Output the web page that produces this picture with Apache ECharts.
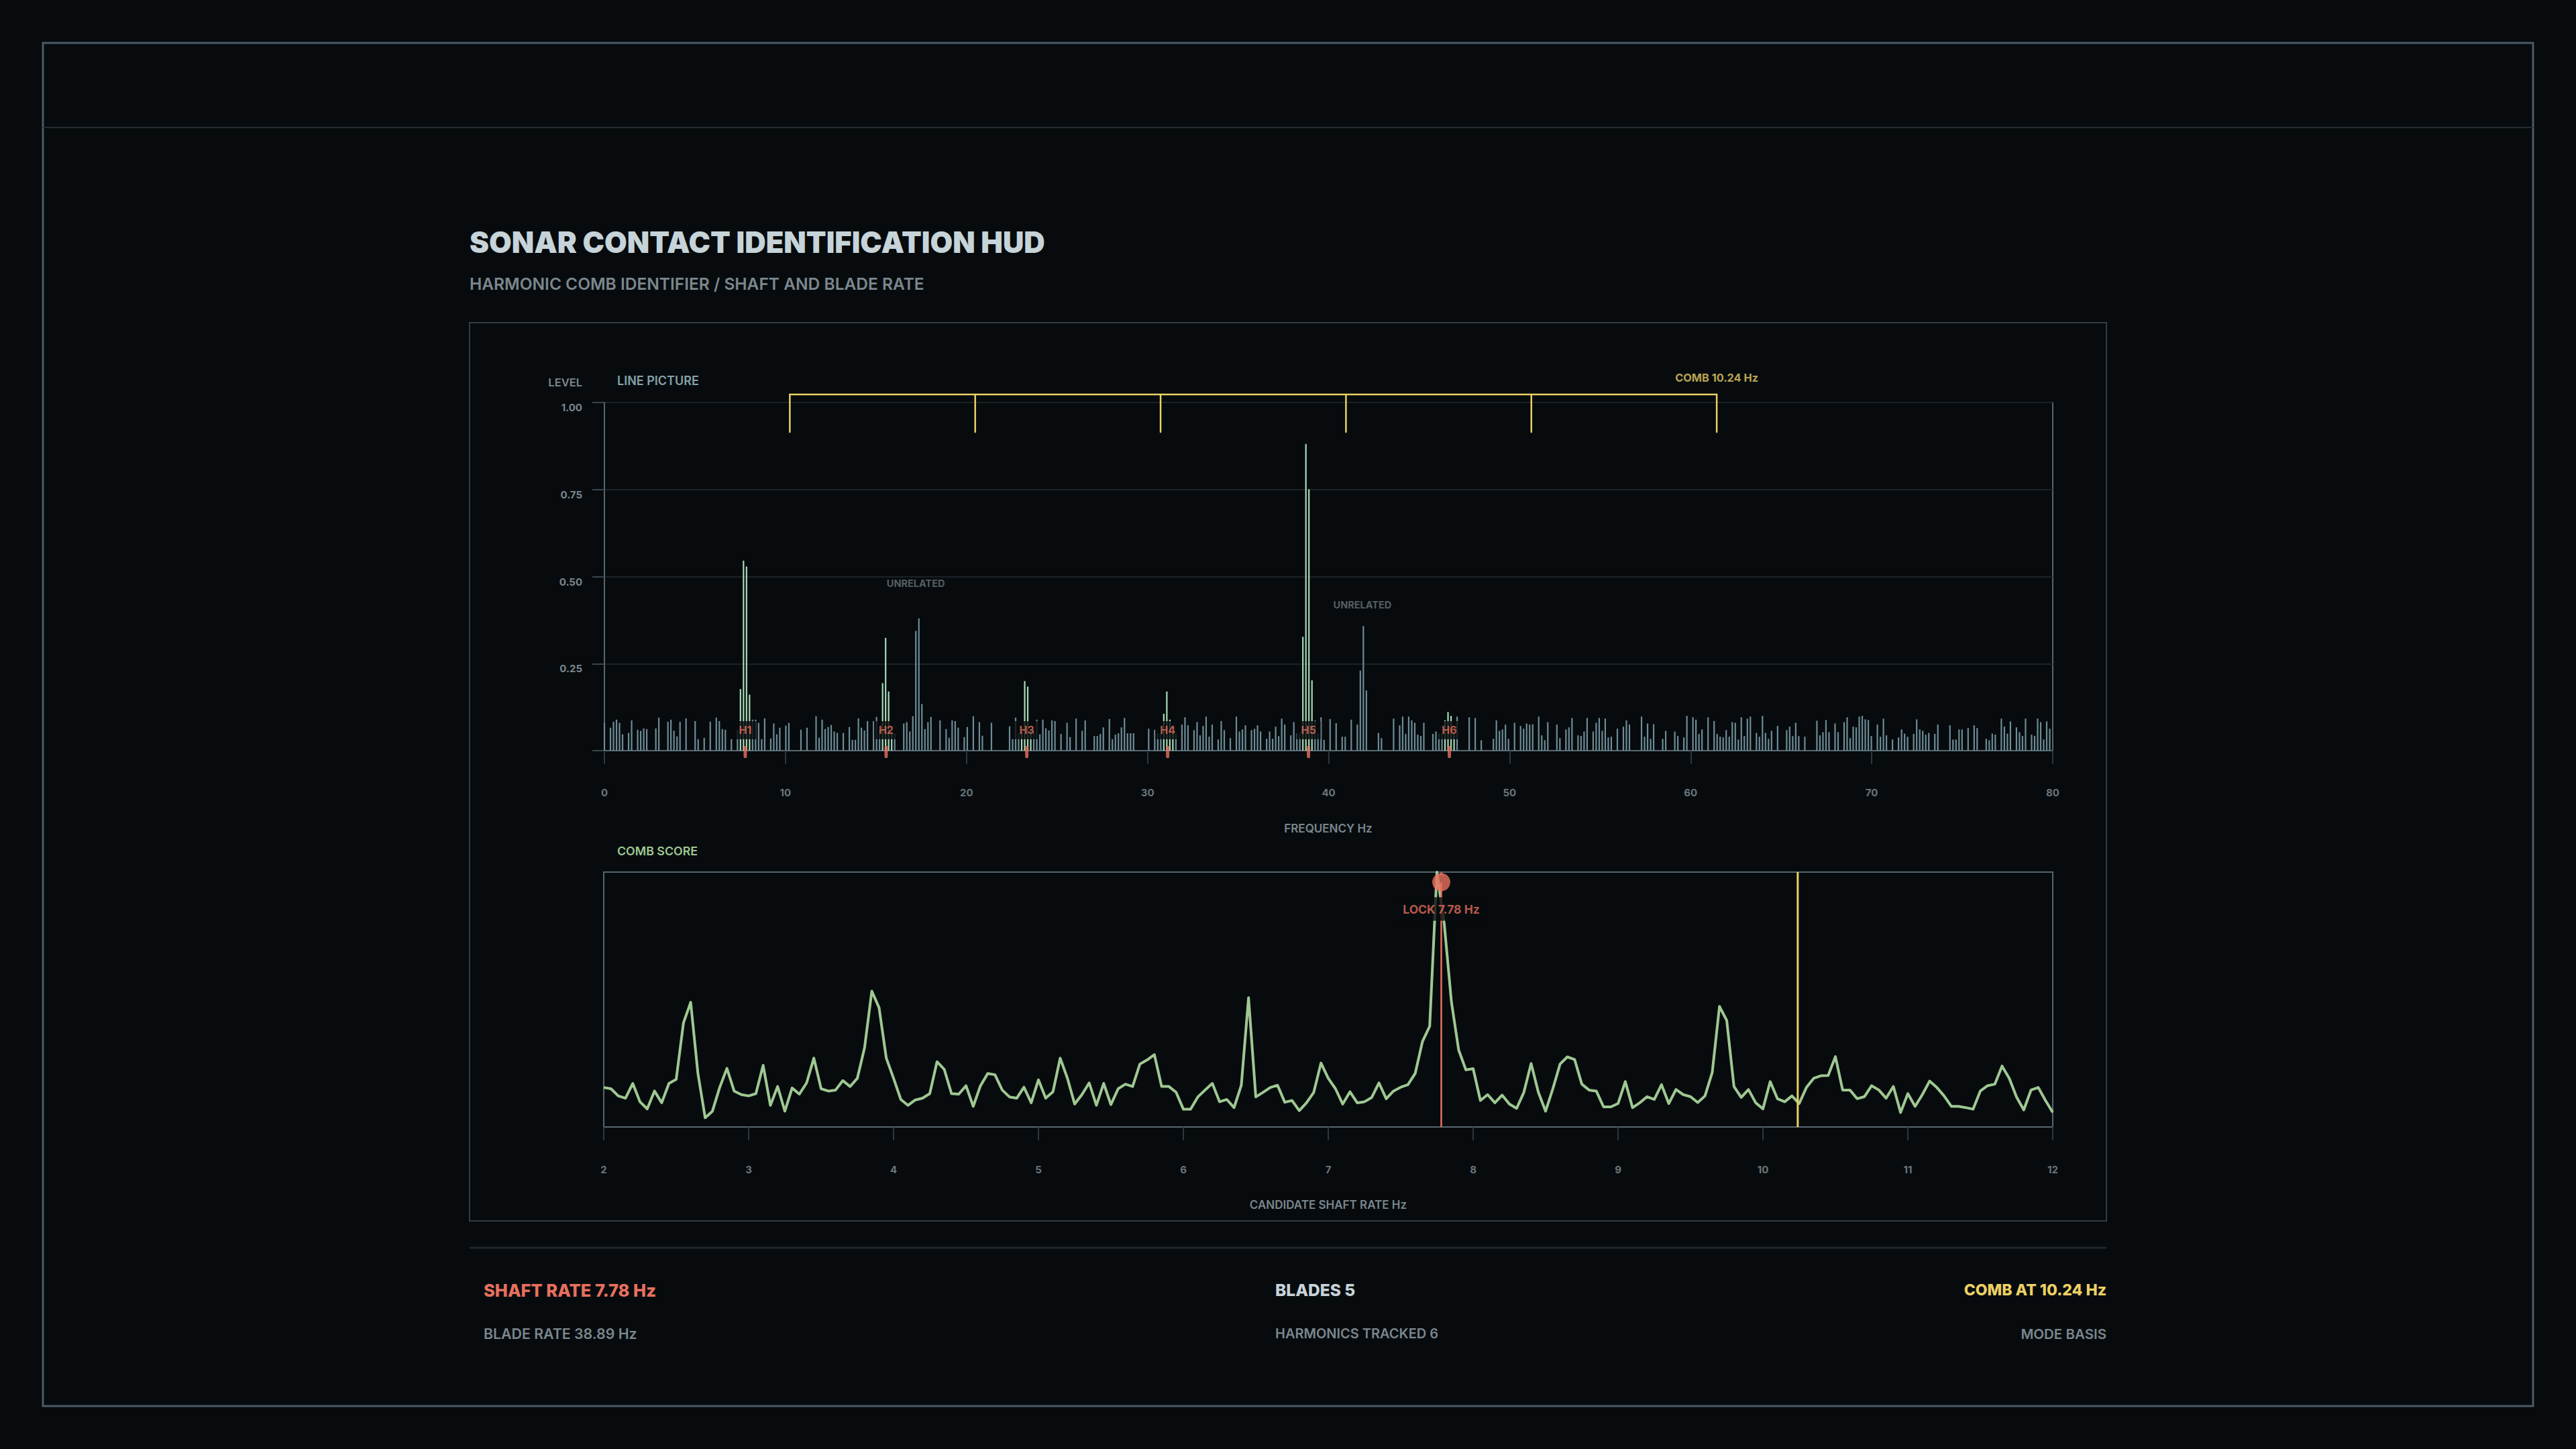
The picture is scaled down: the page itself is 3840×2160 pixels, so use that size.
<!DOCTYPE html>
<html>
<head>
<meta charset="utf-8">
<title>Sonar Contact Identification HUD</title>
<script src="https://cdn.jsdelivr.net/npm/echarts@6/dist/echarts.min.js"></script>
<style>
  html, body { margin: 0; padding: 0; background: #070b0e; }
  #chart { width: 3840px; height: 2160px; }
</style>
</head>
<body>
<div id="chart"></div>
<script>
// ---------------- DATA ----------------
// spectrum bins: 480 bins spread evenly over 0..80 Hz
const BIN_COUNT = 480;
const FREQ_MAX = 80;
const FREQS = Array.from({ length: BIN_COUNT }, (_, k) => k * FREQ_MAX / (BIN_COUNT - 1));

// line-picture levels, one per bin
const LEVELS = [
  0.080,0,0.066,0.083,0.089,0.080,0.047,0,0.051,0.087,
  0,0.060,0.057,0.064,0.062,0,0,0.064,0.095,0,
  0,0.083,0.089,0.057,0.041,0.083,0,0.093,0,0,
  0.085,0.033,0,0.037,0,0.083,0,0.095,0.085,0.062,
  0.060,0,0.033,0,0.060,0.177,0.546,0.529,0.161,0.089,
  0.089,0.080,0.033,0.093,0,0.035,0.078,0.047,0.066,0,
  0.072,0.080,0,0,0,0.060,0,0.066,0,0,
  0.099,0.037,0.089,0.062,0.068,0.074,0.055,0.051,0,0.051,
  0,0.068,0.031,0.031,0.093,0.066,0.058,0.085,0,0.085,
  0.097,0.060,0.194,0.324,0.170,0.050,0.050,0,0,0.078,
  0.082,0.055,0.099,0.344,0.380,0.134,0.062,0.082,0.097,0,
  0,0.087,0,0.062,0.037,0.087,0.085,0.066,0,0.039,
  0.068,0,0.099,0,0.082,0.043,0,0,0.080,0,
  0,0,0,0,0.070,0.033,0.095,0.050,0.055,0.200,
  0.184,0.060,0.050,0.089,0.047,0.089,0.064,0.058,0.087,0.085,
  0,0.048,0,0.080,0.039,0,0.092,0,0.057,0.087,
  0,0,0.042,0.042,0.048,0.067,0,0.091,0.033,0.046,
  0.050,0.067,0.094,0.050,0.050,0.050,0,0,0,0,
  0.063,0,0.060,0.050,0.050,0.106,0.170,0.089,0.050,0.050,
  0,0.075,0.096,0.073,0,0.059,0.082,0.044,0.071,0.098,
  0.040,0.075,0,0.032,0.085,0.059,0,0.036,0,0.098,
  0.055,0.061,0.073,0,0.059,0.063,0.073,0.055,0,0.034,
  0.055,0.034,0.069,0.042,0.092,0.075,0,0.044,0.082,0.050,
  0.050,0.327,0.881,0.751,0.202,0.087,0.050,0.096,0.031,0,
  0.091,0,0.079,0,0.040,0.040,0,0.089,0,0.075,
  0.230,0.358,0.173,0,0,0,0.051,0.036,0,0,
  0,0.092,0,0.073,0.098,0.048,0.098,0.087,0.080,0.046,
  0.042,0.080,0,0,0.048,0.055,0.050,0.050,0.087,0.111,
  0.100,0.050,0.098,0,0,0,0.096,0,0.094,0,
  0.030,0,0,0,0.034,0.087,0.057,0.061,0.075,0.034,
  0,0.080,0,0.071,0.063,0.078,0.075,0.076,0,0.098,
  0.044,0.030,0.082,0,0,0.075,0.036,0,0.061,0.067,
  0.094,0,0.044,0.042,0.055,0.094,0,0.055,0.080,0.094,
  0.057,0.092,0.038,0.040,0,0.063,0,0.069,0.087,0.075,
  0,0,0,0.098,0.040,0.078,0.034,0.076,0,0,
  0.034,0.057,0,0,0.055,0.042,0,0.038,0.100,0,
  0.096,0.089,0.048,0.061,0,0.096,0,0.085,0.048,0.040,
  0.038,0.059,0.040,0.082,0.080,0.032,0.096,0.042,0.092,0.098,
  0,0.051,0.040,0.100,0.051,0.034,0.057,0,0.071,0,
  0,0.059,0.069,0.042,0.080,0.042,0,0.040,0,0,
  0,0.086,0.044,0.053,0.088,0.053,0,0.078,0.053,0,
  0.082,0.096,0.036,0.069,0.067,0.098,0.100,0.090,0.088,0.042,
  0,0.075,0.040,0.092,0.044,0,0.032,0,0.038,0.061,
  0.049,0.040,0,0.048,0.090,0.061,0.057,0.046,0.051,0,
  0.048,0.075,0,0,0,0.073,0.032,0.032,0.061,0.061,
  0,0.065,0,0.073,0.065,0,0,0.034,0.030,0.049,
  0.046,0,0.092,0.069,0.049,0.084,0,0.067,0.053,0.042,
  0.092,0,0.046,0.042,0.092,0.082,0.032,0.084,0.063,0
];

// bins that belong to a tracked harmonic (drawn green)
const HARMONIC_BINS = [45,46,47,48, 92,93,94,95, 138,139,140,141, 185,186,187,188, 231,232,233,234, 278,279,280,281];

const SHAFT_RATE = 7.78;
const BLADE_RATE = 38.89;
const BLADES = 5;
const HARMONIC_NAMES = ['H1','H2','H3','H4','H5','H6'];
const HARMONIC_FREQS = [7.78, 15.56, 23.33, 31.11, 38.89, 46.67];

const COMB_SPACING = 10.24;
const COMB_TEETH = [10.24, 20.48, 30.72, 40.96, 51.20, 61.44];

const UNRELATED_NOTES = [[17.2, 0.48], [41.87, 0.42]];

const X_TICKS_TOP = [0, 10, 20, 30, 40, 50, 60, 70, 80];
const Y_TICKS_TOP = ['0.25', '0.50', '0.75', '1.00'];

// comb score vs candidate shaft rate, 0.05 Hz steps from 2 to 12 Hz
const RATES = Array.from({ length: 201 }, (_, i) => +(2 + i * 0.05).toFixed(2));
const SCORE = [
  0.155,0.150,0.122,0.113,0.171,0.099,0.071,0.141,0.095,0.171,
  0.187,0.408,0.489,0.210,0.036,0.062,0.155,0.230,0.141,0.127,
  0.122,0.131,0.242,0.085,0.159,0.062,0.153,0.129,0.173,0.270,
  0.150,0.141,0.145,0.182,0.159,0.191,0.311,0.533,0.468,0.270,
  0.191,0.108,0.085,0.106,0.113,0.131,0.256,0.226,0.131,0.129,
  0.162,0.081,0.162,0.210,0.205,0.145,0.118,0.113,0.156,0.095,
  0.185,0.113,0.138,0.270,0.191,0.090,0.127,0.173,0.085,0.171,
  0.088,0.150,0.168,0.159,0.247,0.263,0.284,0.159,0.159,0.136,
  0.070,0.070,0.118,0.145,0.171,0.099,0.108,0.076,0.164,0.507,
  0.118,0.136,0.155,0.164,0.097,0.104,0.064,0.095,0.136,0.251,
  0.191,0.150,0.090,0.138,0.095,0.099,0.116,0.173,0.111,0.141,
  0.156,0.166,0.210,0.335,0.395,1.000,0.800,0.491,0.302,0.224,
  0.229,0.104,0.127,0.095,0.125,0.090,0.073,0.136,0.249,0.136,
  0.062,0.150,0.247,0.275,0.265,0.168,0.145,0.141,0.079,0.079,
  0.092,0.178,0.076,0.095,0.119,0.108,0.166,0.092,0.147,0.127,
  0.119,0.096,0.122,0.214,0.473,0.418,0.159,0.116,0.147,0.095,
  0.071,0.178,0.111,0.099,0.122,0.092,0.155,0.191,0.201,0.202,
  0.276,0.145,0.145,0.111,0.119,0.162,0.145,0.113,0.159,0.057,
  0.131,0.081,0.127,0.180,0.155,0.122,0.081,0.081,0.076,0.070,
  0.141,0.162,0.168,0.239,0.191,0.118,0.067,0.145,0.155,0.104,
  0.057
];
const LOCK_RATE = 7.78;

// ---------------- STYLE ----------------
const C = {
  bg: '#070b0e',
  frame: '#4b5b65',
  divider: '#232c32',
  panel: '#2f3a41',
  border: '#56666f',
  grid: '#1b2227',
  tick: '#2c363c',
  text: '#c6d3d8',
  muted: '#7b878d',
  dim: '#6a767c',
  bar: '#6c8c96',
  green: '#a8dab6',
  line: '#9fc892',
  red: '#e8705e',
  yellow: '#ecd064',
  label: '#86a2aa'
};
const FONT = 'Inter, "Noto Sans", sans-serif';

const chart = echarts.init(document.getElementById('chart'), null, { renderer: 'svg', width: 3840, height: 2160 });

const greenSet = new Set(HARMONIC_BINS);
const barData = FREQS.map((f, k) => ({
  value: [f, LEVELS[k]],
  itemStyle: { color: greenSet.has(k) ? C.green : C.bar }
}));

function txt(x, y, text, font, fill, align) {
  return { type: 'text', x: x, y: y, silent: true,
    style: { text: text, font: font, fill: fill, align: align || 'left', verticalAlign: 'middle' } };
}

const option = {
  backgroundColor: C.bg,
  animation: false,
  graphic: [
    { type: 'rect', shape: { x: 64, y: 64, width: 3712, height: 2032 }, style: { fill: 'none', stroke: C.frame, lineWidth: 3 }, silent: true },
    { type: 'line', shape: { x1: 64, y1: 190, x2: 3776, y2: 190 }, style: { stroke: C.divider, lineWidth: 2 }, silent: true },
    { type: 'rect', shape: { x: 700, y: 481, width: 2440, height: 1339 }, style: { fill: 'none', stroke: C.panel, lineWidth: 2 }, silent: true },
    { type: 'line', shape: { x1: 700, y1: 1860, x2: 3140, y2: 1860 }, style: { stroke: '#1f272c', lineWidth: 3 }, silent: true },
    txt(700, 361, 'SONAR CONTACT IDENTIFICATION HUD', '900 43.5px ' + FONT, C.text),
    txt(700, 423, 'HARMONIC COMB IDENTIFIER / SHAFT AND BLADE RATE', '600 24.5px ' + FONT, C.muted),
    txt(868, 570, 'LEVEL', '600 16.5px ' + FONT, C.muted, 'right'),
    txt(920, 567, 'LINE PICTURE', '600 18px ' + FONT, C.label),
    txt(1980, 1235, 'FREQUENCY Hz', '600 17px ' + FONT, C.muted, 'center'),
    txt(920, 1268, 'COMB SCORE', '600 17.8px ' + FONT, C.line),
    txt(1980, 1796, 'CANDIDATE SHAFT RATE Hz', '600 17px ' + FONT, C.muted, 'center'),
    txt(721, 1923, 'SHAFT RATE ' + SHAFT_RATE.toFixed(2) + ' Hz', '800 25.5px ' + FONT, C.red),
    txt(721, 1988, 'BLADE RATE ' + BLADE_RATE.toFixed(2) + ' Hz', '600 21.3px ' + FONT, C.muted),
    txt(1901, 1923, 'BLADES ' + BLADES, '800 24.5px ' + FONT, C.text),
    txt(1901, 1988, 'HARMONICS TRACKED ' + HARMONIC_NAMES.length, '600 20px ' + FONT, C.muted),
    txt(3140, 1923, 'COMB AT ' + COMB_SPACING.toFixed(2) + ' Hz', '800 23px ' + FONT, C.yellow, 'right'),
    txt(3140, 1988, 'MODE BASIS', '600 20.5px ' + FONT, C.muted, 'right')
  ],
  grid: [
    { left: 901, top: 600, width: 2159, height: 519, show: true, borderColor: C.border, borderWidth: 2, backgroundColor: 'transparent' },
    { left: 900, top: 1300, width: 2160, height: 380, show: true, borderColor: C.border, borderWidth: 2, backgroundColor: 'transparent' }
  ],
  xAxis: [
    { type: 'value', gridIndex: 0, min: 0, max: 80, interval: 10,
      axisLine: { show: true, lineStyle: { color: C.border, width: 2 } },
      axisTick: { show: true, length: 20, lineStyle: { color: C.tick, width: 2 } },
      axisLabel: { margin: 55, color: C.dim, fontFamily: FONT, fontWeight: 700, fontSize: 15,
        formatter: v => X_TICKS_TOP.includes(v) ? String(v) : '' },
      splitLine: { show: false } },
    { type: 'value', gridIndex: 1, min: 2, max: 12, interval: 1,
      axisLine: { show: true, lineStyle: { color: C.border, width: 2 } },
      axisTick: { show: true, length: 20, lineStyle: { color: C.tick, width: 2 } },
      axisLabel: { margin: 56, color: C.dim, fontFamily: FONT, fontWeight: 700, fontSize: 15 },
      splitLine: { show: false } }
  ],
  yAxis: [
    { type: 'value', gridIndex: 0, min: 0, max: 1, interval: 0.25,
      axisLine: { show: true, lineStyle: { color: C.border, width: 2 } },
      axisTick: { show: true, length: 18, lineStyle: { color: '#3a464e', width: 2 } },
      axisLabel: { margin: 33, color: C.muted, fontFamily: FONT, fontWeight: 700, fontSize: 15, verticalAlign: 'top',
        formatter: v => { const s = v.toFixed(2); return Y_TICKS_TOP.includes(s) ? s : ''; } },
      splitLine: { show: true, lineStyle: { color: C.grid, width: 2 } } },
    { type: 'value', gridIndex: 1, min: 0, max: 1,
      axisLine: { show: true, lineStyle: { color: C.border, width: 2 } },
      axisTick: { show: false }, axisLabel: { show: false }, splitLine: { show: false } }
  ],
  series: [
    // spectrum bars
    { name: 'Line picture', type: 'bar', xAxisIndex: 0, yAxisIndex: 0, barWidth: 2.2, data: barData, z: 2 },
    // comb bracket
    { name: 'Comb', type: 'lines', coordinateSystem: 'cartesian2d', xAxisIndex: 0, yAxisIndex: 0, polyline: true, clip: false, z: 4,
      lineStyle: { color: C.yellow, width: 2.5, opacity: 1, cap: 'round' },
      data: [{ coords: [[COMB_TEETH[0], 0.915], [COMB_TEETH[0], 1.023], [COMB_TEETH[COMB_TEETH.length - 1], 1.023], [COMB_TEETH[COMB_TEETH.length - 1], 0.915]] }]
        .concat(COMB_TEETH.slice(1, -1).map(t => ({ coords: [[t, 1.023], [t, 0.915]] }))) },
    // comb label
    { name: 'Comb label', type: 'scatter', xAxisIndex: 0, yAxisIndex: 0, symbolSize: 0, clip: false, z: 6, silent: true,
      data: [[COMB_TEETH[COMB_TEETH.length - 1], 1.071]],
      label: { show: true, position: 'inside', formatter: 'COMB ' + COMB_SPACING.toFixed(2) + ' Hz', color: C.yellow, fontFamily: FONT, fontWeight: 700, fontSize: 16.3 } },
    // harmonic ticks under the axis
    { name: 'Harmonic ticks', type: 'scatter', xAxisIndex: 0, yAxisIndex: 0, clip: false, z: 6, silent: true,
      symbol: 'roundRect', symbolSize: [5, 18], symbolOffset: [0, 2], itemStyle: { color: C.red },
      data: HARMONIC_FREQS.map(f => [f, 0]) },
    // harmonic tags
    { name: 'Harmonic tags', type: 'scatter', xAxisIndex: 0, yAxisIndex: 0, symbolSize: 1, z: 7, silent: true,
      itemStyle: { color: 'transparent' },
      data: HARMONIC_FREQS.map((f, i) => ({ value: [f, 0.059], name: HARMONIC_NAMES[i] })),
      label: { show: true, position: 'inside', formatter: p => p.name, color: C.red, fontFamily: FONT, fontWeight: 700, fontSize: 16,
        backgroundColor: C.bg, padding: [6, 7, 5, 7] } },
    // unrelated notes
    { name: 'Unrelated', type: 'scatter', xAxisIndex: 0, yAxisIndex: 0, symbolSize: 1, z: 7, silent: true,
      itemStyle: { color: 'transparent' }, data: UNRELATED_NOTES,
      label: { show: true, position: 'inside', formatter: 'UNRELATED', color: C.dim, fontFamily: FONT, fontWeight: 700, fontSize: 14.5 } },

    // comb score
    { name: 'Comb score', type: 'line', xAxisIndex: 1, yAxisIndex: 1, showSymbol: false, symbol: 'none', z: 3,
      lineStyle: { color: C.line, width: 4, join: 'round' },
      data: RATES.map((r, i) => [r, SCORE[i]]) },
    // lock line
    { name: 'Lock', type: 'line', xAxisIndex: 1, yAxisIndex: 1, symbol: 'none', z: 4,
      lineStyle: { color: C.red, width: 2.5 }, data: [[LOCK_RATE, 0], [LOCK_RATE, 0.96]] },
    // comb spacing line
    { name: 'Comb spacing', type: 'line', xAxisIndex: 1, yAxisIndex: 1, symbol: 'none', z: 4,
      lineStyle: { color: C.yellow, width: 3 }, data: [[COMB_SPACING, 0], [COMB_SPACING, 1]] },
    // lock label
    { name: 'Lock label', type: 'scatter', xAxisIndex: 1, yAxisIndex: 1, symbolSize: 1, z: 7, silent: true,
      itemStyle: { color: 'transparent' }, data: [[LOCK_RATE, 0.855]],
      label: { show: true, position: 'inside', formatter: 'LOCK ' + LOCK_RATE.toFixed(2) + ' Hz', color: C.red, fontFamily: FONT, fontWeight: 700, fontSize: 17.5,
        backgroundColor: C.bg, padding: [9, 6, 8, 6] } },
    // lock pin: round head with a small tip touching the top border
    { name: 'Lock pin head', type: 'scatter', xAxisIndex: 1, yAxisIndex: 1, clip: false, z: 8, silent: true,
      symbol: 'circle', symbolSize: 27, symbolOffset: [0, 15], itemStyle: { color: C.red },
      data: [[LOCK_RATE, 1]] },
    { name: 'Lock pin tip', type: 'scatter', xAxisIndex: 1, yAxisIndex: 1, clip: false, z: 8, silent: true,
      symbol: 'triangle', symbolSize: [7, 6], symbolOffset: [0, 2], itemStyle: { color: C.red },
      data: [[LOCK_RATE, 1]] }
  ]
};
chart.setOption(option);
</script>
</body>
</html>
